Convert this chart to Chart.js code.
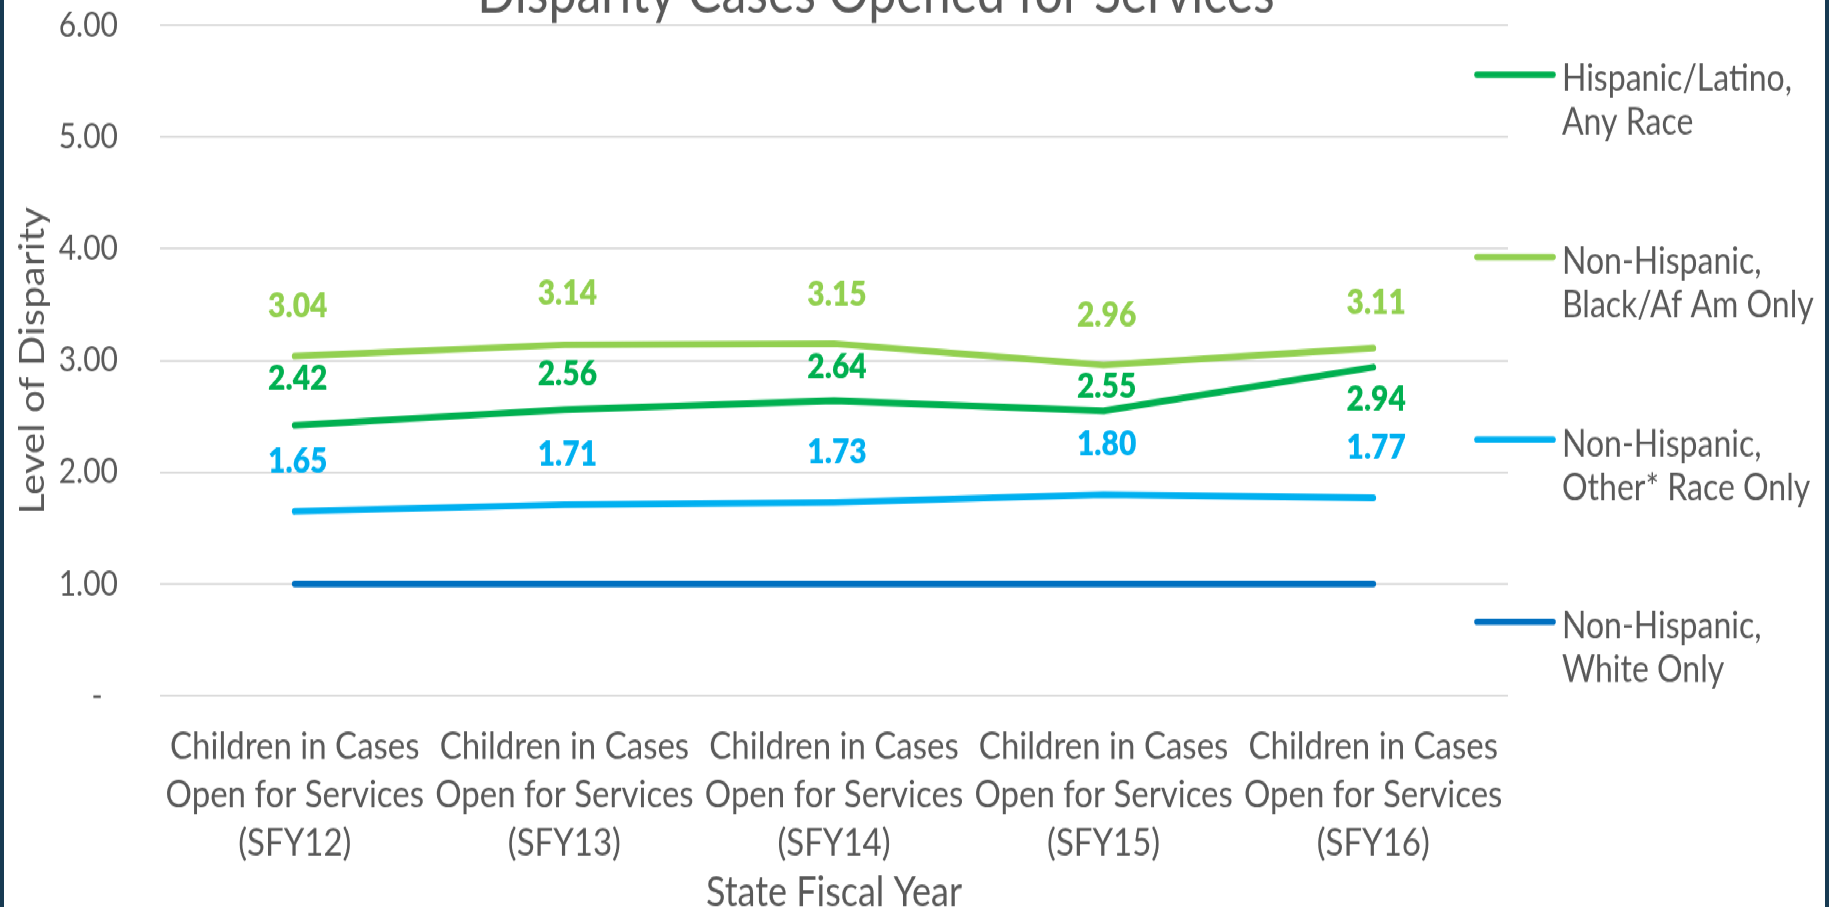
<!DOCTYPE html>
<html>
<head>
<meta charset="utf-8">
<script src="https://cdn.jsdelivr.net/npm/chart.js@4.4.1/dist/chart.umd.min.js"></script>
<style>
  html, body { margin: 0; padding: 0; background: #173a52; overflow: hidden; }
  body { width: 1829px; height: 907px; position: relative; }
  /* the source picture is stretched a bit vertically, so the chart is too */
  #wrap { position: absolute; left: 4px; top: 0; width: 1821px; height: 789px; background: #fff;
          transform: scaleY(1.15); transform-origin: 0 0; }
</style>
</head>
<body>
<div id="wrap"><canvas id="chart" width="1821" height="789"></canvas></div>
<script>
const categories = [
  ["Children in Cases", "Open for Services", "(SFY12)"],
  ["Children in Cases", "Open for Services", "(SFY13)"],
  ["Children in Cases", "Open for Services", "(SFY14)"],
  ["Children in Cases", "Open for Services", "(SFY15)"],
  ["Children in Cases", "Open for Services", "(SFY16)"]
];
const hispanic = [2.42, 2.56, 2.64, 2.55, 2.94];
const black = [3.04, 3.14, 3.15, 2.96, 3.11];
const other = [1.65, 1.71, 1.73, 1.80, 1.77];
const white = [1.00, 1.00, 1.00, 1.00, 1.00];
const seriesNames = [
  ["Hispanic/Latino,", "Any Race"],
  ["Non-Hispanic,", "Black/Af Am Only"],
  ["Non-Hispanic,", "Other* Race Only"],
  ["Non-Hispanic,", "White Only"]
];
const yTicks = [0, 1, 2, 3, 4, 5, 6];
const chartTitle = "Disparity Cases Opened for Services";

const GREY = "#595959";
const FONT = "Lato, 'Open Sans', sans-serif";

// value labels, offset (logical px) above the point, negative = below
const valueLabels = {
  id: "valueLabels",
  afterDatasetsDraw(chart) {
    const ctx = chart.ctx;
    ctx.save();
    ctx.font = "800 30px " + FONT;
    ctx.textAlign = "center";
    ctx.textBaseline = "middle";
    chart.data.datasets.forEach((ds, i) => {
      if (!ds.labelOffsets) return;
      ctx.fillStyle = ds.borderColor;
      chart.getDatasetMeta(i).data.forEach((pt, j) => {
        ctx.fillText(ds.data[j].toFixed(2), pt.x + 3, pt.y - ds.labelOffsets[j]);
      });
    });
    ctx.restore();
  }
};

// legend on the right with two-line names
const sideLegend = {
  id: "sideLegend",
  afterDraw(chart) {
    const { ctx, chartArea } = chart;
    ctx.save();
    ctx.font = "32px " + FONT;
    ctx.textBaseline = "middle";
    ctx.textAlign = "left";
    chart.data.datasets.forEach((ds, i) => {
      const y = chartArea.top + 43 + i * 158.6;
      ctx.strokeStyle = ds.borderColor;
      ctx.lineWidth = 5.6;
      ctx.lineCap = "round";
      ctx.beginPath();
      ctx.moveTo(chartArea.right - 31, y);
      ctx.lineTo(chartArea.right + 45, y);
      ctx.stroke();
      ctx.fillStyle = GREY;
      seriesNames[i].forEach((line, k) => ctx.fillText(line, chartArea.right + 54, y + 4 + k * 38));
    });
    ctx.restore();
  }
};

// title, mostly cut off by the top edge
const topTitle = {
  id: "topTitle",
  afterDraw(chart) {
    const { ctx, chartArea } = chart;
    ctx.save();
    ctx.font = "50px " + FONT;
    ctx.fillStyle = GREY;
    ctx.textAlign = "center";
    ctx.textBaseline = "alphabetic";
    ctx.fillText(chartTitle, chartArea.left + 716, chartArea.top - 11.5);
    ctx.restore();
  }
};

const lineStyle = { borderWidth: 5.9, pointRadius: 0, pointHoverRadius: 0, borderCapStyle: "round", borderJoinStyle: "round", tension: 0, fill: false };

new Chart(document.getElementById("chart"), {
  type: "line",
  data: {
    labels: categories,
    datasets: [
      { ...lineStyle, label: seriesNames[0].join(" "), data: hispanic, borderColor: "#00b050", labelOffsets: [41, 31, 29.5, 21, -28] },
      { ...lineStyle, label: seriesNames[1].join(" "), data: black, borderColor: "#92d050", labelOffsets: [43.5, 44.5, 43, 43, 39] },
      { ...lineStyle, label: seriesNames[2].join(" "), data: other, borderColor: "#00b0f0", labelOffsets: [43.5, 44, 43.5, 43.5, 43.5] },
      { ...lineStyle, label: seriesNames[3].join(" "), data: white, borderColor: "#0070c0" }
    ]
  },
  options: {
    responsive: false,
    animation: false,
    events: [],
    layout: { padding: { top: 22, right: 317, bottom: 0, left: 0 } },
    plugins: { legend: { display: false }, title: { display: false }, tooltip: { enabled: false } },
    scales: {
      x: {
        type: "category",
        offset: true,
        grid: { display: false },
        border: { display: false },
        ticks: { color: GREY, font: { family: FONT, size: 33, lineHeight: 1.28 }, padding: 15, maxRotation: 0, autoSkip: false },
        title: { display: true, text: "State Fiscal Year", color: GREY, font: { family: FONT, size: 36, lineHeight: 1 }, padding: { top: 0, bottom: -5 } },
        afterFit: s => { s.height = 184; }
      },
      y: {
        min: 0,
        max: 6,
        afterBuildTicks: s => { s.ticks = yTicks.map(v => ({ value: v })); },
        grid: { color: "#d9d9d9", lineWidth: 1.8, drawTicks: false },
        border: { display: false },
        ticks: { color: GREY, font: { family: FONT, size: 30 }, padding: 42, callback: v => v === 0 ? "-  " : v.toFixed(2) },
        title: { display: true, text: "Level of Disparity", color: GREY, font: { family: FONT, size: 35, lineHeight: 1.2 }, padding: { top: 8, bottom: 0 } },
        afterFit: s => { s.width = 156; s.paddingTop = 0; s.paddingBottom = 0; }
      }
    }
  },
  plugins: [valueLabels, sideLegend, topTitle]
});
</script>
</body>
</html>
